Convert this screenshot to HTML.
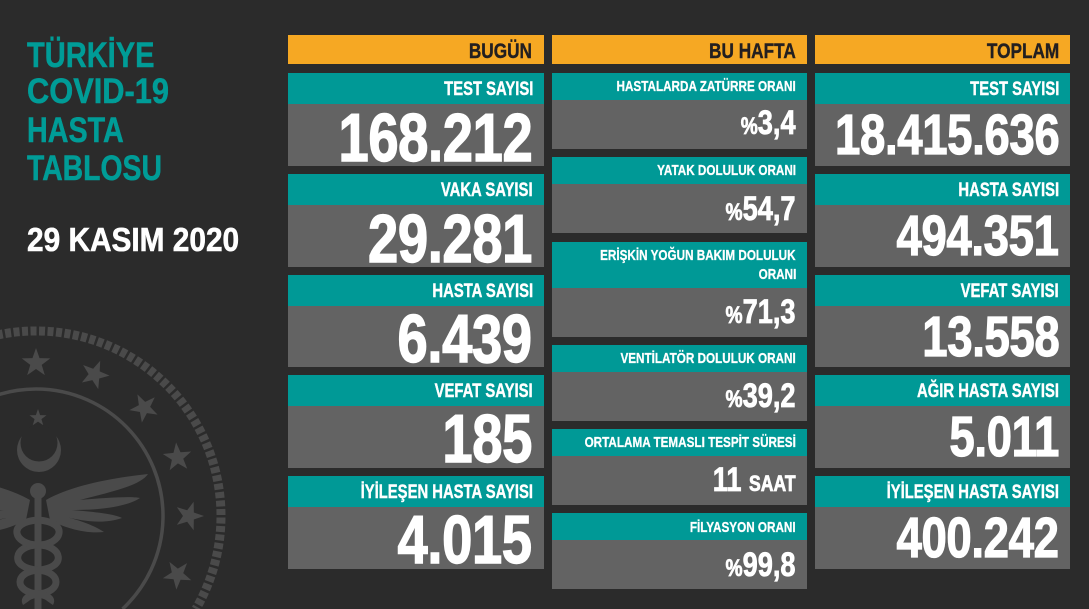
<!DOCTYPE html>
<html><head><meta charset="utf-8">
<style>
html{margin:0;padding:0;width:1089px;height:609px;overflow:hidden;}
body{margin:0;padding:0;width:1089px;height:609px;background:#2b2b2b;position:relative;overflow:hidden;font-family:"Liberation Sans",sans-serif;}
.r{position:absolute;}
.or{background:#f6a823;}
.tl{background:#009996;}
.gr{background:#636363;}
.t{position:absolute;white-space:nowrap;font-weight:bold;line-height:1;transform-origin:100% 0;}
.h{font-size:21px;color:#231f20;transform:scaleX(.82);-webkit-text-stroke:.4px #231f20;}
.lb{font-size:19px;color:#fff;transform:scaleX(.78);-webkit-text-stroke:.4px #fff;}
.ml{font-size:15px;color:#fff;transform:scaleX(.78);-webkit-text-stroke:.3px #fff;}
.nL{font-size:68px;color:#fff;transform:scaleX(.8);-webkit-text-stroke:1.4px #fff;letter-spacing:-0.5px;}
.nR{font-size:57px;color:#fff;transform:scaleX(.8);-webkit-text-stroke:1.2px #fff;letter-spacing:-0.5px;}
.mv{font-size:34px;color:#fff;transform:scaleX(.8);-webkit-text-stroke:.8px #fff;}
.mv .p{font-size:24px;}
.mv .s{font-size:22px;}
.ti{position:absolute;left:27px;white-space:nowrap;font-weight:bold;line-height:1;font-size:35px;color:#009c97;transform-origin:0 0;-webkit-text-stroke:.5px #009c97;}
</style></head><body>

<svg class="r" style="left:0;top:0;display:block" width="300" height="609" viewBox="0 0 300 609">
<defs>
<polygon id="st" points="0,-15 3.53,-4.85 14.27,-4.64 5.71,1.85 8.82,12.14 0,6 -8.82,12.14 -5.71,1.85 -14.27,-4.64 -3.53,-4.85"/>
</defs>
<g fill="#4a4a4a" stroke="none">
<path d="M-123.9,609 A185,185 0 1 1 195.9,609" fill="none" stroke="#4a4a4a" stroke-width="9" stroke-dasharray="6 2.5"/>
<path d="M-50.5,609 A127,127 0 1 1 122.5,609" fill="none" stroke="#4a4a4a" stroke-width="3.5"/>
<use href="#st" transform="translate(36,363)"/>
<use href="#st" transform="translate(94.6,374.6) rotate(22)"/>
<use href="#st" transform="translate(144.2,407.8) rotate(45)"/>
<use href="#st" transform="translate(177.4,457.4) rotate(67)"/>
<use href="#st" transform="translate(189,516) rotate(90)"/>
<use href="#st" transform="translate(177.4,574.6) rotate(112)"/>
<use href="#st" transform="translate(-22.6,374.6) rotate(-22)"/>
<use href="#st" transform="translate(38,418) scale(0.6)"/>
<circle cx="39" cy="450" r="22"/>
<circle cx="39" cy="443" r="18.5" fill="#2b2b2b"/>
<circle cx="38" cy="491" r="8"/>
<rect x="34.5" y="495" width="7" height="114"/>
<path d="M46,500 C70,486 110,478 148,474 C140,486 110,492 80,500 C105,498 130,496 140,498 C125,508 95,510 72,510 C95,512 115,514 122,518 C105,524 85,522 62,516 C80,520 95,526 104,532 C85,534 65,528 50,520 Z"/>
<path d="M30,500 C6,486 -34,478 -72,474 C-64,486 -34,492 -4,500 C-29,498 -54,496 -64,498 C-49,508 -19,510 4,510 C-19,512 -39,514 -46,518 C-29,524 -9,522 14,516 C-4,520 -19,526 -28,532 C-9,534 11,528 26,520 Z"/>
<g fill="none" stroke="#4a4a4a" stroke-width="7">
<path d="M38,520 C70,522 62,545 38,545 C14,545 8,568 38,570 C62,572 62,592 38,594 C26,596 24,600 26,603"/>
<path d="M38,520 C6,522 14,545 38,545 C62,545 68,568 38,570 C14,572 14,592 38,594 C50,596 52,600 50,603"/>
</g>
</g>
</svg>

<div class="ti" style="top:38.4px;transform:scaleX(.83)">TÜRKİYE</div>
<div class="ti" style="top:74.4px;transform:scaleX(.88)">COVID-19</div>
<div class="ti" style="top:113.4px;transform:scaleX(.82)">HASTA</div>
<div class="ti" style="top:151.4px;transform:scaleX(.81)">TABLOSU</div>
<div class="ti" style="top:223.6px;font-size:33.5px;color:#fff;-webkit-text-stroke:.6px #fff;transform:scaleX(.89)">29 KASIM 2020</div>

<div class="r or" style="left:288px;top:35px;width:256px;height:29px"></div>
<div class="r or" style="left:552px;top:35px;width:255px;height:29px"></div>
<div class="r or" style="left:815px;top:35px;width:255px;height:29px"></div>
<div class="t h" style="right:557px;top:40.5px">BUGÜN</div>
<div class="t h" style="right:293px;top:40.5px">BU HAFTA</div>
<div class="t h" style="right:30px;top:40.5px">TOPLAM</div>

<div class="r tl" style="left:288px;top:73px;width:256px;height:31px"></div>
<div class="r gr" style="left:288px;top:104px;width:256px;height:62px"></div>
<div class="r tl" style="left:288px;top:174px;width:256px;height:31px"></div>
<div class="r gr" style="left:288px;top:205px;width:256px;height:62px"></div>
<div class="r tl" style="left:288px;top:275px;width:256px;height:31px"></div>
<div class="r gr" style="left:288px;top:306px;width:256px;height:61px"></div>
<div class="r tl" style="left:288px;top:375px;width:256px;height:31px"></div>
<div class="r gr" style="left:288px;top:406px;width:256px;height:62px"></div>
<div class="r tl" style="left:288px;top:476px;width:256px;height:31px"></div>
<div class="r gr" style="left:288px;top:507px;width:256px;height:62px"></div>

<div class="t lb" style="right:556px;top:79.9px">TEST SAYISI</div>
<div class="t nL" style="right:557px;top:103.9px">168.212</div>
<div class="t lb" style="right:556px;top:180.9px">VAKA SAYISI</div>
<div class="t nL" style="right:557px;top:204.9px">29.281</div>
<div class="t lb" style="right:556px;top:281.9px">HASTA SAYISI</div>
<div class="t nL" style="right:557px;top:304.9px">6.439</div>
<div class="t lb" style="right:556px;top:381.9px">VEFAT SAYISI</div>
<div class="t nL" style="right:557px;top:404.9px">185</div>
<div class="t lb" style="right:556px;top:482.9px">İYİLEŞEN HASTA SAYISI</div>
<div class="t nL" style="right:557px;top:505.9px">4.015</div>

<div class="r tl" style="left:552px;top:73px;width:255px;height:27px"></div>
<div class="r gr" style="left:552px;top:100px;width:255px;height:49px"></div>
<div class="r tl" style="left:552px;top:157px;width:255px;height:27px"></div>
<div class="r gr" style="left:552px;top:184px;width:255px;height:49px"></div>
<div class="r tl" style="left:552px;top:242px;width:255px;height:46px"></div>
<div class="r gr" style="left:552px;top:288px;width:255px;height:49px"></div>
<div class="r tl" style="left:552px;top:345px;width:255px;height:27px"></div>
<div class="r gr" style="left:552px;top:372px;width:255px;height:49px"></div>
<div class="r tl" style="left:552px;top:429px;width:255px;height:27px"></div>
<div class="r gr" style="left:552px;top:456px;width:255px;height:49px"></div>
<div class="r tl" style="left:552px;top:513px;width:255px;height:27px"></div>
<div class="r gr" style="left:552px;top:540px;width:255px;height:49px"></div>

<div class="t ml" style="right:293px;top:79.3px">HASTALARDA ZATÜRRE ORANI</div>
<div class="t mv" style="right:293px;top:106.2px"><span class="p">%</span>3,4</div>
<div class="t ml" style="right:293px;top:163.3px">YATAK DOLULUK ORANI</div>
<div class="t mv" style="right:293px;top:192.2px"><span class="p">%</span>54,7</div>
<div class="t ml" style="right:293px;top:248px">ERİŞKİN YOĞUN BAKIM DOLULUK</div>
<div class="t ml" style="right:293px;top:267.3px">ORANI</div>
<div class="t mv" style="right:293px;top:295.2px"><span class="p">%</span>71,3</div>
<div class="t ml" style="right:293px;top:351.3px">VENTİLATÖR DOLULUK ORANI</div>
<div class="t mv" style="right:293px;top:379.2px"><span class="p">%</span>39,2</div>
<div class="t ml" style="right:293px;top:434.6px">ORTALAMA TEMASLI TESPİT SÜRESİ</div>
<div class="t mv" style="right:293px;top:463.2px">11 <span class="s">SAAT</span></div>
<div class="t ml" style="right:293px;top:519.6px">FİLYASYON ORANI</div>
<div class="t mv" style="right:293px;top:548.2px"><span class="p">%</span>99,8</div>

<div class="r tl" style="left:815px;top:73px;width:255px;height:31px"></div>
<div class="r gr" style="left:815px;top:104px;width:255px;height:62px"></div>
<div class="r tl" style="left:815px;top:174px;width:255px;height:31px"></div>
<div class="r gr" style="left:815px;top:205px;width:255px;height:62px"></div>
<div class="r tl" style="left:815px;top:275px;width:255px;height:31px"></div>
<div class="r gr" style="left:815px;top:306px;width:255px;height:61px"></div>
<div class="r tl" style="left:815px;top:375px;width:255px;height:31px"></div>
<div class="r gr" style="left:815px;top:406px;width:255px;height:62px"></div>
<div class="r tl" style="left:815px;top:476px;width:255px;height:31px"></div>
<div class="r gr" style="left:815px;top:507px;width:255px;height:62px"></div>

<div class="t lb" style="right:30px;top:79.9px">TEST SAYISI</div>
<div class="t nR" style="right:30px;top:107.3px">18.415.636</div>
<div class="t lb" style="right:30px;top:180.9px">HASTA SAYISI</div>
<div class="t nR" style="right:30px;top:208.3px">494.351</div>
<div class="t lb" style="right:30px;top:281.9px">VEFAT SAYISI</div>
<div class="t nR" style="right:30px;top:309.3px">13.558</div>
<div class="t lb" style="right:30px;top:381.9px">AĞIR HASTA SAYISI</div>
<div class="t nR" style="right:30px;top:409.3px">5.011</div>
<div class="t lb" style="right:30px;top:482.9px">İYİLEŞEN HASTA SAYISI</div>
<div class="t nR" style="right:30px;top:510.3px">400.242</div>

</body></html>
